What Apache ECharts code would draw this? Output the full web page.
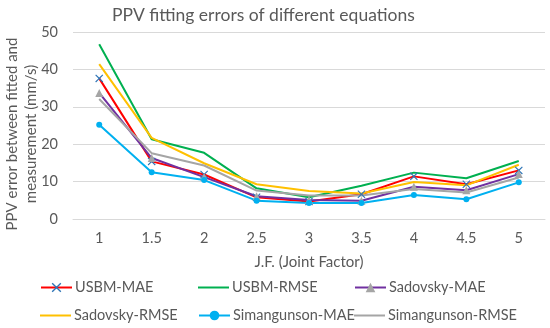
<!DOCTYPE html>
<html>
<head>
<meta charset="utf-8">
<script src="https://cdn.jsdelivr.net/npm/echarts@6/dist/echarts.min.js"></script>
<style>
html,body{margin:0;padding:0;background:#fff;}
#chart{width:550px;height:328px;}
</style>
</head>
<body>
<div id="chart"></div>
<script>
const categories = ['1','1.5','2','2.5','3','3.5','4','4.5','5'];
const usbmMAE = [37.6, 15.4, 11.9, 5.8, 4.7, 6.6, 11.4, 9.3, 13.0];
const usbmRMSE = [46.7, 21.3, 17.7, 8.2, 5.8, 8.9, 12.4, 10.9, 15.5];
const sadovskyMAE = [33.7, 16.3, 11.2, 6.1, 5.1, 4.9, 8.6, 7.7, 12.0];
const sadovskyRMSE = [41.4, 21.7, 14.9, 9.3, 7.5, 6.8, 9.9, 9.0, 14.5];
const simangunsonMAE = [25.2, 12.5, 10.4, 4.9, 4.3, 4.3, 6.4, 5.3, 9.8];
const simangunsonRMSE = [32.1, 17.6, 14.3, 7.6, 6.3, 6.3, 8.0, 7.1, 11.1];
const seriesNames = ['USBM-MAE','USBM-RMSE','Sadovsky-MAE','Sadovsky-RMSE','Simangunson-MAE','Simangunson-RMSE'];
const yAxisTitle = 'PPV error between fitted and\nmeasurement (mm/s)';

const FONT = 'Lato';
const TXT = '#595959';
const xMark = 'path://M1,0 L5,4 L9,0 L10,1 L6,5 L10,9 L9,10 L5,6 L1,10 L0,9 L4,5 L0,1 Z';
const hasMarker = [true, false, true, false, true, false];

function mk(name, data, lineColor, symbol, symColor, symSize) {
  return {
    name: name, type: 'line', data: data,
    symbol: symbol || 'none', symbolSize: symSize || 0, showSymbol: !!symbol,
    lineStyle: {color: lineColor, width: 2},
    itemStyle: {color: symColor || lineColor},
    emphasis: {disabled: true},
    animation: false
  };
}

const legendPos = [[40,280],[198,280],[354,280],[40,308],[198,308],[354,308]];
const legends = seriesNames.map((n, i) => {
  const item = hasMarker[i] ? {name: n} : {name: n, icon: 'path://M0,0 L31,0 L31,2 L0,2 Z'};
  return {
    data: [item], left: legendPos[i][0], top: legendPos[i][1],
    itemWidth: 31, itemHeight: hasMarker[i] ? 12 : 2, itemGap: 0,
    textStyle: {fontFamily: FONT, fontSize: 14.5, color: TXT, padding: [0,0,0,-2]},
    padding: 0
  };
});

const chart = echarts.init(document.getElementById('chart'));
chart.setOption({
  backgroundColor: '#fff',
  animation: false,
  title: {
    text: 'PPV fitting errors of different equations',
    left: 107, top: 1,
    textStyle: {fontFamily: FONT, fontSize: 17.5, fontWeight: 'normal', color: TXT}
  },
  legend: legends,
  graphic: [{
    type: 'text', x: 22, y: 134, rotation: Math.PI / 2, silent: true,
    style: {text: yAxisTitle, fontFamily: FONT, fontSize: 15, lineHeight: 19, fill: TXT, align: 'center', verticalAlign: 'middle'}
  }],
  grid: {left: 73, right: 5, top: 32, bottom: 109, outerBoundsMode: 'none', containLabel: false},
  xAxis: {
    type: 'category', data: categories, boundaryGap: true,
    name: 'J.F. (Joint Factor)', nameLocation: 'middle', nameGap: 36,
    nameTextStyle: {fontFamily: FONT, fontSize: 15, color: TXT},
    axisLine: {lineStyle: {color: '#D9D9D9', width: 1}},
    axisTick: {show: false},
    axisLabel: {fontFamily: FONT, fontSize: 14.5, color: TXT, margin: 12}
  },
  yAxis: {
    type: 'value', min: 0, max: 50, interval: 10,
    axisLine: {show: false}, axisTick: {show: false},
    splitLine: {lineStyle: {color: '#D9D9D9', width: 1}},
    axisLabel: {fontFamily: FONT, fontSize: 14.5, color: TXT, margin: 15}
  },
  series: [
    mk('USBM-MAE', usbmMAE, '#FF0000', xMark, '#2E75B6', 8),
    mk('USBM-RMSE', usbmRMSE, '#00B050'),
    mk('Sadovsky-MAE', sadovskyMAE, '#7030A0', 'triangle', '#A5A5A5', 8),
    mk('Sadovsky-RMSE', sadovskyRMSE, '#FFC000'),
    mk('Simangunson-MAE', simangunsonMAE, '#00B0F0', 'circle', '#00B0F0', 6),
    mk('Simangunson-RMSE', simangunsonRMSE, '#A5A5A5')
  ]
});
</script>
</body>
</html>
